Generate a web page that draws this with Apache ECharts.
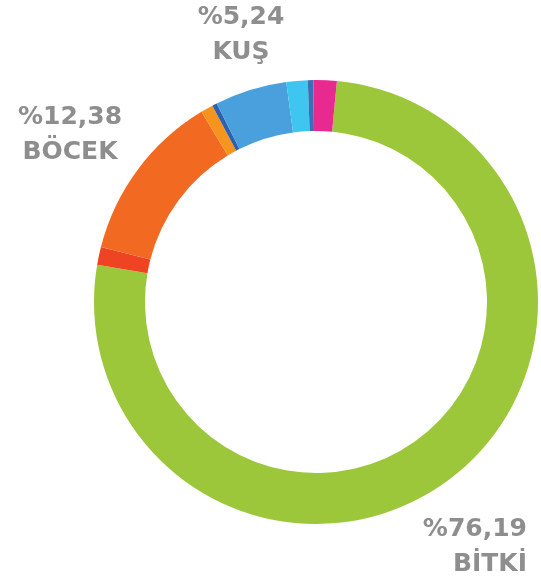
<!DOCTYPE html>
<html>
<head>
    <meta charset="utf-8">
    <title>Beslenme Dağılımı</title>
    <script src="https://cdn.jsdelivr.net/npm/echarts/dist/echarts.min.js"></script>
    <style>
    html, body { margin: 0; padding: 0; background: #fff; }
    #main { width: 541px; height: 585px; }
    </style>
</head>
<body>
    <div id="main"></div>
    <script type="text/javascript">
        // dilimler saat yönünde, tepeden hemen sonra başlayan yeşil dilimden itibaren
        var names = ['BİTKİ', 'diğer-1', 'BÖCEK', 'diğer-2', 'diğer-3', 'KUŞ', 'diğer-4', 'diğer-5', 'diğer-6'];
        var values = [76.19, 1.30, 12.38, 0.90, 0.35, 5.24, 1.55, 0.40, 1.69];
        var colors = ['#9dc73b', '#ee4423', '#f26a21', '#f7941e', '#2e62ad', '#4aa0dc', '#3ec5f0', '#3a6fb5', '#e8298f'];
        var labelled = ['BİTKİ', 'BÖCEK', 'KUŞ'];

        // etiketlerin yerleri (sayfa pikseli)
        var labelPos = {
            0: { x: 527, y: 547, align: 'right' },
            2: { x: 70, y: 135, align: 'center' },
            5: { x: 241, y: 35, align: 'center' }
        };

        var myChart = echarts.init(document.getElementById('main'));

        var pieData = names.map(function (n, i) {
            return {
                name: n,
                value: values[i],
                itemStyle: { color: colors[i] },
                label: { show: labelled.indexOf(n) >= 0 }
            };
        });

        var option = {
            backgroundColor: '#ffffff',
            animation: false,
            series: [
                {
                    type: 'pie',
                    center: [316, 302],
                    radius: [171, 222],
                    startAngle: 84.6,
                    clockwise: true,
                    padAngle: 0,
                    avoidLabelOverlap: false,
                    emphasis: { disabled: true },
                    itemStyle: { borderWidth: 0, borderColor: 'transparent', borderRadius: 0 },
                    label: {
                        color: '#8e8e8e',
                        fontFamily: 'DejaVu Sans',
                        fontWeight: 'bold',
                        fontSize: 25,
                        lineHeight: 35,
                        formatter: function (p) {
                            return '%' + p.value.toFixed(2).replace('.', ',') + '\n' + p.name;
                        }
                    },
                    labelLine: { show: false },
                    labelLayout: function (params) {
                        var pos = labelPos[params.dataIndex];
                        if (!pos) return {};
                        return { x: pos.x, y: pos.y, align: pos.align, verticalAlign: 'middle' };
                    },
                    data: pieData
                }
            ]
        };

        myChart.setOption(option);
    </script>
</body>
</html>
